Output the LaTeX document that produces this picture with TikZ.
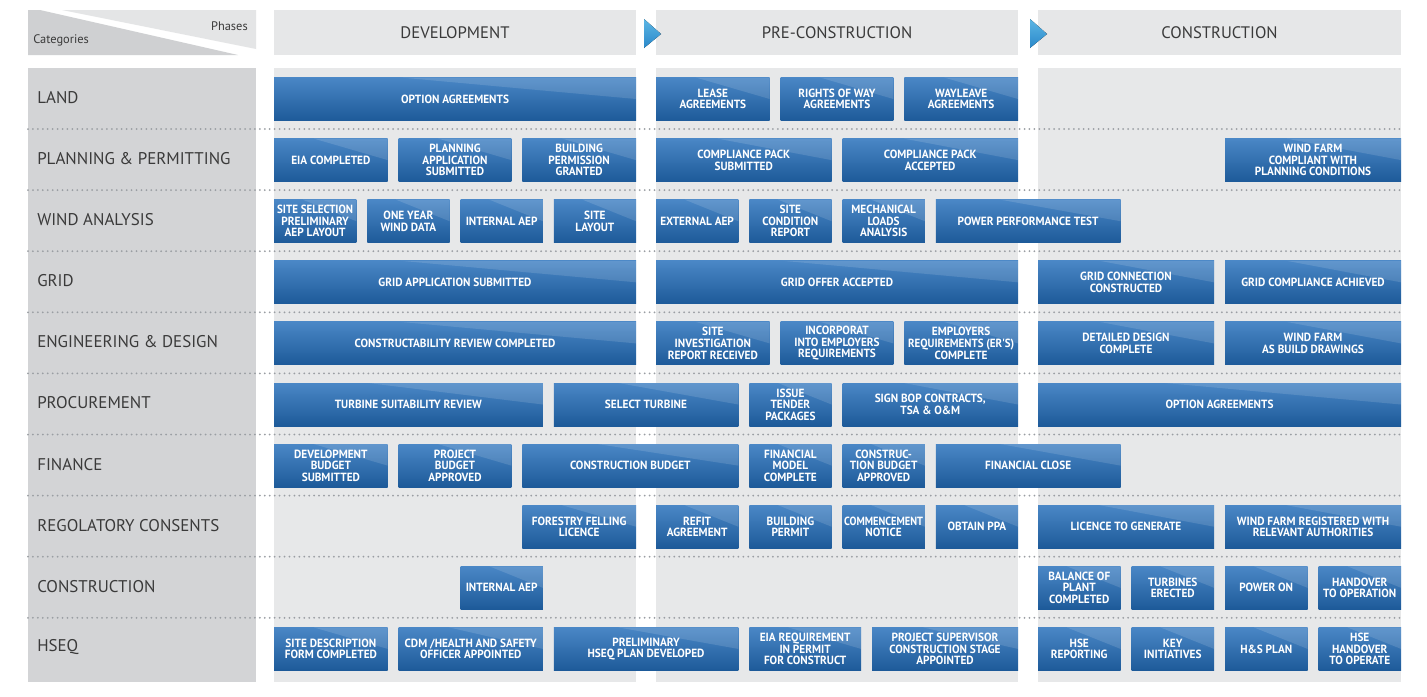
\documentclass[tikz,border=0pt]{standalone}
\usepackage{fontspec}
\setmainfont{PT Sans}
\newfontfamily\boxfont[FakeStretch=0.95]{PT Sans}
\usetikzlibrary{calc}
\definecolor{hdrgray}{HTML}{E6E7E8}
\definecolor{colgray}{HTML}{E7E8E9}
\definecolor{leftgray}{HTML}{D3D4D6}
\definecolor{cornerdark}{HTML}{CFD0D2}
\definecolor{cornerlight}{HTML}{E4E5E6}
\definecolor{boxtop}{HTML}{4A87C6}
\definecolor{boxbot}{HTML}{1D5A99}
\definecolor{arrowtop}{HTML}{5CB6E5}
\definecolor{arrowbot}{HTML}{2A88C9}
\definecolor{dotgray}{HTML}{9A9EA3}
\definecolor{labelgray}{HTML}{3A3A3A}
\tikzset{
  blk/.style={draw=none, top color=boxtop, bottom color=boxbot, text=white,
    font=\boxfont\bfseries\fontsize{8.9}{8.7}\selectfont, align=center,
    inner sep=0pt, minimum height=32.25pt,
    path picture={\fill[white,opacity=0.13]
      ($(path picture bounding box.north west)!0.35!(path picture bounding box.north east)$) --
      (path picture bounding box.north east) --
      ($(path picture bounding box.north east)!0.5!(path picture bounding box.south east)$) -- cycle;}},
  rowlabel/.style={anchor=west, text=labelgray, font=\fontsize{12.7}{13}\selectfont, inner sep=0pt},
  phasetext/.style={text=labelgray, font=\fontsize{12.5}{13}\selectfont, inner sep=0pt},
  divider/.style={draw=dotgray, line width=1.5pt, line cap=round, dash pattern=on 0pt off 3.7pt},
  phasearrow/.style={top color=arrowtop, bottom color=arrowbot, draw=none},
}
\newcommand\bx[5]{%
  \pgfmathsetmacro\bxw{(#3-#2)*0.75}%
  \pgfmathsetmacro\bxy{99+61.1*#4}%
  \pgfmathsetmacro\bxx{(#2+#3)/2}%
  \node[blk, minimum width=\bxw pt] (#1) at (\bxx,\bxy) {#5};%
}
\newcommand\rl[3]{%
  \pgfmathsetmacro\rly{97.5+61.1*#2}%
  \node[rowlabel] (#1) at (37,\rly) {#3};%
}
\begin{document}
\begin{tikzpicture}[x=0.75pt,y=-0.75pt]
\useasboundingbox (0,0) rectangle (1427,696);
\fill[white] (0,0) rectangle (1427,696);
% corner box
\fill[cornerdark] (28,10) -- (40,10) -- (238,55) -- (28,55) -- cycle;
\fill[cornerlight] (62,10) -- (256,10) -- (256,49) -- cycle;
\node[text=labelgray, font=\fontsize{9.3}{10}\selectfont, anchor=west, inner sep=0pt] (cat) at (33,40) {Categories};
\node[text=labelgray, font=\fontsize{9.3}{10}\selectfont, anchor=east, inner sep=0pt] (pha) at (248,26) {Phases};
% phase headers
\fill[hdrgray] (274,10) rectangle (636,55);
\fill[hdrgray] (656,10) rectangle (1018,55);
\fill[hdrgray] (1038,10) rectangle (1401,55);
\node[phasetext] (dev) at (455,33) {DEVELOPMENT};
\node[phasetext] (pre) at (837,33) {PRE-CONSTRUCTION};
\node[phasetext] (con) at (1219.5,33) {CONSTRUCTION};
\fill[phasearrow] (644,19) -- (661,34) -- (644,48) -- cycle;
\fill[phasearrow] (1030,19) -- (1047,34) -- (1030,48) -- cycle;
% columns
\fill[leftgray] (28,68) rectangle (256,682);
\fill[colgray] (274,68) rectangle (636,682);
\fill[colgray] (656,68) rectangle (1018,682);
\fill[colgray] (1038,68) rectangle (1401,682);
% dividers
\foreach \k in {0,...,8} {
  \pgfmathsetmacro\dy{129+61.1*\k}
  \draw[divider] (28,\dy) -- (1401,\dy);
}
% row labels
\rl{lland}{0}{LAND}
\rl{lplan}{1}{PLANNING \& PERMITTING}
\rl{lwind}{2}{WIND ANALYSIS}
\rl{lgrid}{3}{GRID}
\rl{leng}{4}{ENGINEERING \& DESIGN}
\rl{lproc}{5}{PROCUREMENT}
\rl{lfin}{6}{FINANCE}
\rl{lreg}{7}{REGOLATORY CONSENTS}
\rl{lcons}{8}{CONSTRUCTION}
\rl{lhseq}{9}{HSEQ}
% LAND
\bx{a1}{274}{636}{0}{OPTION AGREEMENTS}
\bx{a2}{656}{769.7}{0}{LEASE\\AGREEMENTS}
\bx{a3}{780.7}{893.3}{0}{RIGHTS OF WAY\\AGREEMENTS}
\bx{a4}{904.3}{1018}{0}{WAYLEAVE\\AGREEMENTS}
% PLANNING
\bx{b1}{274}{387.7}{1}{EIA COMPLETED}
\bx{b2}{398.7}{511.3}{1}{PLANNING\\APPLICATION\\SUBMITTED}
\bx{b3}{522.3}{636}{1}{BUILDING\\PERMISSION\\GRANTED}
\bx{b4}{656}{831.5}{1}{COMPLIANCE PACK\\SUBMITTED}
\bx{b5}{842.5}{1018}{1}{COMPLIANCE PACK\\ACCEPTED}
\bx{b6}{1225}{1401}{1}{WIND FARM\\COMPLIANT WITH\\PLANNING CONDITIONS}
% WIND
\bx{c1}{274}{356.25}{2}{\scalebox{0.97}[1]{SITE SELECTION}\\PRELIMINARY\\AEP LAYOUT}
\bx{c2}{367.25}{449.5}{2}{ONE YEAR\\WIND DATA}
\bx{c3}{460.5}{542.75}{2}{INTERNAL AEP}
\bx{c4}{553.75}{636}{2}{SITE\\LAYOUT}
\bx{c5}{656}{738.25}{2}{EXTERNAL AEP}
\bx{c6}{749.25}{831.5}{2}{SITE\\CONDITION\\REPORT}
\bx{c7}{842.5}{924.75}{2}{MECHANICAL\\LOADS\\ANALYSIS}
\bx{c8}{935.75}{1120.5}{2}{POWER PERFORMANCE TEST}
% GRID
\bx{d1}{274}{636}{3}{GRID APPLICATION SUBMITTED}
\bx{d2}{656}{1018}{3}{GRID OFFER ACCEPTED}
\bx{d3}{1038}{1214}{3}{GRID CONNECTION\\CONSTRUCTED}
\bx{d4}{1225}{1401}{3}{GRID COMPLIANCE ACHIEVED}
% ENGINEERING
\bx{e1}{274}{636}{4}{CONSTRUCTABILITY REVIEW COMPLETED}
\bx{e2}{656}{769.7}{4}{SITE\\INVESTIGATION\\REPORT RECEIVED}
\bx{e3}{780.7}{893.3}{4}{INCORPORAT\\INTO EMPLOYERS\\REQUIREMENTS}
\bx{e4}{904.3}{1018}{4}{EMPLOYERS\\\scalebox{0.97}[1]{REQUIREMENTS (ER'S)}\\COMPLETE}
\bx{e5}{1038}{1214}{4}{DETAILED DESIGN\\COMPLETE}
\bx{e6}{1225}{1401}{4}{WIND FARM\\AS BUILD DRAWINGS}
% PROCUREMENT
\bx{f1}{274}{542.75}{5}{TURBINE SUITABILITY REVIEW}
\bx{f2}{553.75}{738.25}{5}{SELECT TURBINE}
\bx{f3}{749.25}{831.5}{5}{ISSUE\\TENDER\\PACKAGES}
\bx{f4}{842.5}{1018}{5}{SIGN BOP CONTRACTS,\\TSA \& O\&M}
\bx{f5}{1038}{1401}{5}{OPTION AGREEMENTS}
% FINANCE
\bx{g1}{274}{387.7}{6}{DEVELOPMENT\\BUDGET\\SUBMITTED}
\bx{g2}{398.7}{511.3}{6}{PROJECT\\BUDGET\\APPROVED}
\bx{g3}{522.3}{738.25}{6}{CONSTRUCTION BUDGET}
\bx{g4}{749.25}{831.5}{6}{FINANCIAL\\MODEL\\COMPLETE}
\bx{g5}{842.5}{924.75}{6}{CONSTRUC-\\TION BUDGET\\APPROVED}
\bx{g6}{935.75}{1120.5}{6}{FINANCIAL CLOSE}
% REGULATORY
\bx{h1}{522.3}{636}{7}{FORESTRY FELLING\\LICENCE}
\bx{h2}{656}{738.25}{7}{REFIT\\AGREEMENT}
\bx{h3}{749.25}{831.5}{7}{BUILDING\\PERMIT}
\bx{h4}{842.5}{924.75}{7}{\scalebox{0.92}[1]{COMMENCEMENT}\\NOTICE}
\bx{h5}{935.75}{1018}{7}{OBTAIN PPA}
\bx{h6}{1038}{1214}{7}{LICENCE TO GENERATE}
\bx{h7}{1225}{1401}{7}{WIND FARM REGISTERED WITH\\RELEVANT AUTHORITIES}
% CONSTRUCTION
\bx{i1}{460.5}{542.75}{8}{INTERNAL AEP}
\bx{i2}{1038}{1120.5}{8}{BALANCE OF\\PLANT\\COMPLETED}
\bx{i3}{1131.5}{1214}{8}{TURBINES\\ERECTED}
\bx{i4}{1225}{1307.5}{8}{POWER ON}
\bx{i5}{1318.5}{1401}{8}{HANDOVER\\TO OPERATION}
% HSEQ
\bx{j1}{274}{387.7}{9}{SITE DESCRIPTION\\FORM COMPLETED}
\bx{j2}{398.7}{542.75}{9}{CDM /HEALTH AND SAFETY\\OFFICER APPOINTED}
\bx{j3}{553.75}{738.25}{9}{PRELIMINARY\\HSEQ PLAN DEVELOPED}
\bx{j4}{749.25}{861}{9}{EIA REQUIREMENT\\IN PERMIT\\FOR CONSTRUCT}
\bx{j5}{872}{1018}{9}{PROJECT SUPERVISOR\\CONSTRUCTION STAGE\\APPOINTED}
\bx{j6}{1038}{1120.5}{9}{HSE\\REPORTING}
\bx{j7}{1131.5}{1214}{9}{KEY\\INITIATIVES}
\bx{j8}{1225}{1307.5}{9}{H\&S PLAN}
\bx{j9}{1318.5}{1401}{9}{HSE\\HANDOVER\\TO OPERATE}
\end{tikzpicture}
\end{document}
